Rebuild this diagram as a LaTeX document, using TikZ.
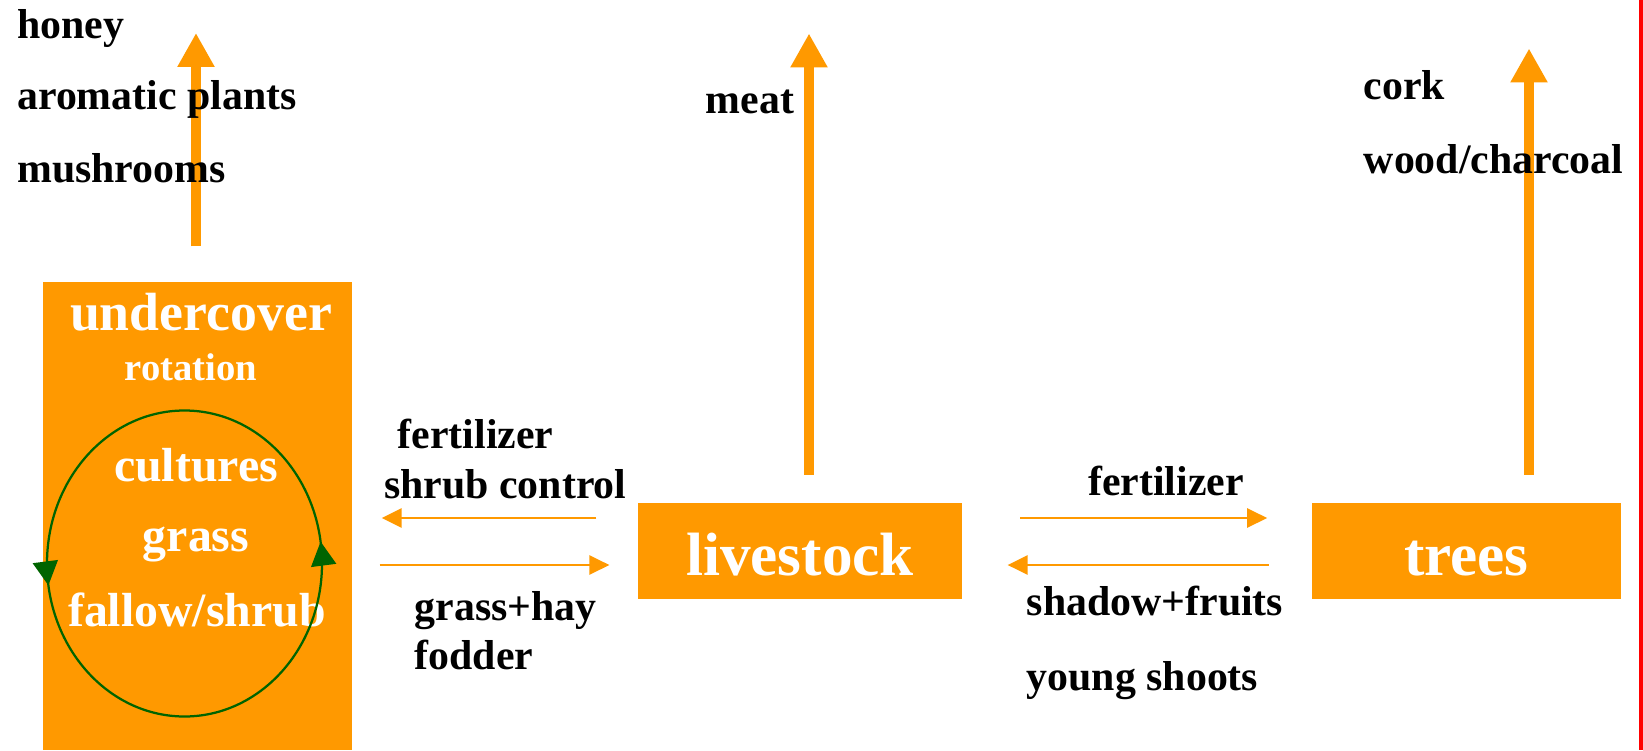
\documentclass[tikz,border=0pt]{standalone}
\usepackage{fontspec}
\setmainfont{Liberation Serif}
\usetikzlibrary{arrows.meta,decorations.markings}

\definecolor{boxorange}{HTML}{FF9900}
\definecolor{cyclegreen}{HTML}{006400}

\tikzset{
  box/.style={fill=boxorange, inner sep=0pt, text=white, text height=0.96cm, text depth=0cm,
    font=\bfseries\fontsize{34.8}{40}\selectfont},
  txt/.style={anchor=base west, inner sep=0pt, font=\bfseries\fontsize{23.8}{28}\selectfont},
  intxt/.style={anchor=base, inner sep=0pt, text=white, font=\bfseries\fontsize{27.2}{32}\selectfont},
  bigarrow/.style={draw=boxorange, line width=0.2cm, -{Triangle[length=0.68cm,width=0.7cm]}},
  thinarrow/.style={draw=boxorange, line width=0.055cm, -{Triangle[length=0.4cm,width=0.38cm]}},
  rotarrow/.style={draw=cyclegreen, line width=0.045cm, postaction={decorate},
    decoration={markings,
      mark=at position 0.024 with {\arrow{Triangle[length=0.48cm,width=0.5cm]}},
      mark=at position 0.524 with {\arrow{Triangle[length=0.48cm,width=0.5cm]}}}}
}

\begin{document}
\begin{tikzpicture}
\useasboundingbox (0,0) rectangle (32.86,15);

% boxes
\node[box, minimum width=6.17cm, minimum height=9.36cm, anchor=south west] (undercover) at (0.86,0) {};
\node[box, minimum width=6.49cm, minimum height=1.93cm] (livestock) at (16.0,3.98) {livestock};
\node[box, minimum width=6.17cm, minimum height=1.93cm] (trees) at (29.325,3.98) {trees};

% products
\coordinate (honeytip) at (3.92,14.34);
\coordinate (meattip) at (16.18,14.33);
\coordinate (corktip) at (30.58,14.03);
\draw[bigarrow, shorten <=0.7cm] (undercover.north -| honeytip) -- (honeytip);
\draw[bigarrow, shorten <=0.55cm] (livestock.north -| meattip) -- (meattip);
\draw[bigarrow, shorten <=0.55cm] (trees.north -| corktip) -- (corktip);

% exchanges
\coordinate (upper) at (0,4.64);
\coordinate (lower) at (0,3.7);
\draw[thinarrow, shorten <=0.82cm, shorten >=0.59cm] (livestock.west |- upper) -- (undercover.east |- upper);
\draw[thinarrow, shorten <=0.55cm, shorten >=0.56cm] (undercover.east |- lower) -- (livestock.west |- lower);
\draw[thinarrow, shorten <=1.15cm, shorten >=0.89cm] (livestock.east |- upper) -- (trees.west |- upper);
\draw[thinarrow, shorten <=0.86cm, shorten >=0.9cm] (trees.west |- lower) -- (livestock.east |- lower);

\node[txt] (honey) at (0.34,14.22) {honey};
\node[txt] (aromatic) at (0.34,12.8) {aromatic plants};
\node[txt] (mushrooms) at (0.34,11.34) {mushrooms};
\node[txt] (meat) at (14.11,12.73) {meat};
\node[txt] (cork) at (27.27,13.0) {cork};
\node[txt] (wood) at (27.27,11.53) {wood/charcoal};
\node[txt] (fertleft) at (7.95,6.03) {fertilizer};
\node[txt] (shrubctl) at (7.68,5.03) {shrub control};
\node[txt] (grasshay) at (8.29,2.6) {grass+hay};
\node[txt] (fodder) at (8.29,1.61) {fodder};
\node[txt] (fertright) at (21.76,5.1) {fertilizer};
\node[txt] (shadow) at (20.53,2.69) {shadow+fruits};
\node[txt] (shoots) at (20.53,1.2) {young shoots};

% rotation inside undercover
\node[intxt, font=\bfseries\fontsize{30.6}{36}\selectfont] (undertitle) at (4.02,8.39) {undercover};
\node[intxt, font=\bfseries\fontsize{22}{26}\selectfont] (rotation) at (3.82,7.4) {rotation};
\node[intxt] (cultures) at (3.92,5.37) {cultures};
\node[intxt] (grass) at (3.92,3.97) {grass};
\node[intxt] (fallow) at (3.94,2.47) {fallow/shrub};
\draw[rotarrow] (3.69,3.73) ellipse (2.75 and 3.06);

\fill[red] (32.77,0) rectangle (32.86,15);
\end{tikzpicture}
\end{document}
